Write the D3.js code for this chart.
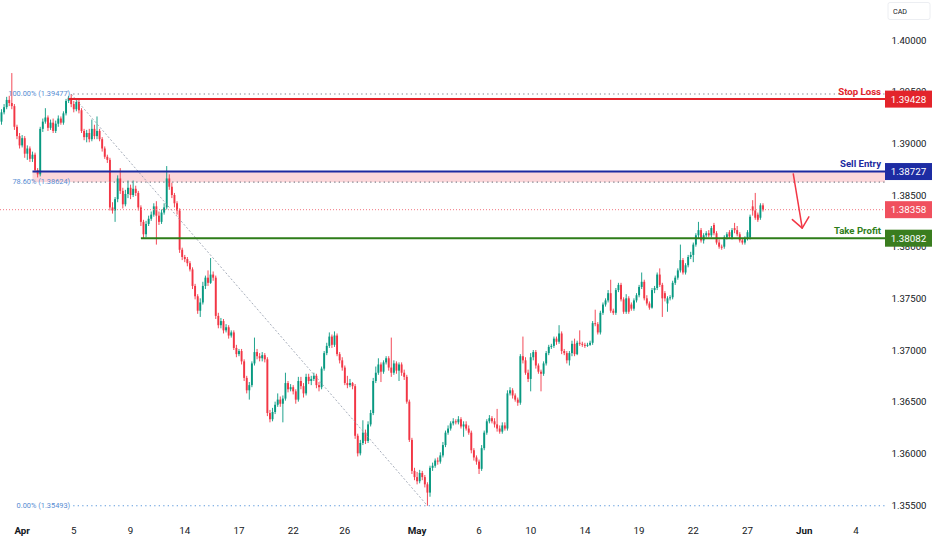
<!DOCTYPE html>
<html><head><meta charset="utf-8">
<script src="https://cdn.jsdelivr.net/npm/d3@7"></script>
<style>html,body{margin:0;padding:0;background:#fff;}svg{display:block;}</style>
</head><body>
<svg id="c" width="932" height="550"></svg>
<script>
// ---- data (USD/CAD candles) ----
const opens = [
1.3921,1.3930,1.3935,1.3942,1.3939,1.3936,1.3916,1.3907,1.3898,1.3905,
1.3890,1.3895,1.3885,1.3889,1.3874,1.3870,1.3914,1.3921,1.3925,1.3915,
1.3920,1.3912,1.3919,1.3924,1.3920,1.3929,1.3941,1.3944,1.3938,1.3933,
1.3940,1.3932,1.3912,1.3906,1.3910,1.3904,1.3914,1.3907,1.3912,1.3904,
1.3895,1.3887,1.3884,1.3838,1.3835,1.3846,1.3866,1.3854,1.3841,1.3851,
1.3857,1.3850,1.3856,1.3852,1.3838,1.3824,1.3812,1.3822,1.3827,1.3831,
1.3839,1.3830,1.3824,1.3833,1.3838,1.3866,1.3858,1.3850,1.3842,1.3835,
1.3797,1.3790,1.3788,1.3784,1.3778,1.3762,1.3752,1.3738,1.3746,1.3762,
1.3770,1.3765,1.3773,1.3770,1.3733,1.3724,1.3728,1.3719,1.3722,1.3714,
1.3717,1.3702,1.3696,1.3699,1.3689,1.3673,1.3661,1.3666,1.3687,1.3698,
1.3694,1.3692,1.3695,1.3691,1.3639,1.3633,1.3640,1.3647,1.3652,1.3648,
1.3653,1.3668,1.3662,1.3664,1.3660,1.3652,1.3670,1.3665,1.3658,1.3674,
1.3670,1.3672,1.3675,1.3666,1.3664,1.3682,1.3697,1.3704,1.3713,1.3705,
1.3714,1.3696,1.3690,1.3683,1.3668,1.3666,1.3668,1.3665,1.3617,1.3600,
1.3610,1.3620,1.3612,1.3628,1.3639,1.3670,1.3678,1.3686,1.3679,1.3688,
1.3692,1.3683,1.3678,1.3687,1.3680,1.3686,1.3678,1.3674,1.3650,1.3613,
1.3583,1.3577,1.3573,1.3581,1.3577,1.3570,1.3562,1.3586,1.3588,1.3593,
1.3592,1.3598,1.3608,1.3620,1.3624,1.3629,1.3631,1.3630,1.3633,1.3626,
1.3628,1.3624,1.3620,1.3603,1.3596,1.3592,1.3585,1.3605,1.3620,1.3631,
1.3634,1.3631,1.3628,1.3624,1.3621,1.3627,1.3624,1.3658,1.3661,1.3656,
1.3652,1.3649,1.3694,1.3690,1.3678,1.3672,1.3693,1.3698,1.3685,1.3679,
1.3677,1.3687,1.3697,1.3703,1.3704,1.3711,1.3708,1.3716,1.3699,1.3697,
1.3690,1.3697,1.3706,1.3696,1.3707,1.3706,1.3705,1.3704,1.3705,1.3707,
1.3726,1.3725,1.3717,1.3736,1.3744,1.3748,1.3755,1.3738,1.3736,1.3758,
1.3763,1.3749,1.3737,1.3750,1.3744,1.3740,1.3748,1.3753,1.3761,1.3766,
1.3750,1.3745,1.3741,1.3758,1.3760,1.3773,1.3763,1.3755,1.3745,1.3750,
1.3751,1.3765,1.3770,1.3777,1.3787,1.3775,1.3782,1.3790,1.3792,1.3802,
1.3811,1.3816,1.3806,1.3811,1.3813,1.3811,1.3821,1.3813,1.3804,1.3800,
1.3800,1.3809,1.3814,1.3809,1.3818,1.3816,1.3812,1.3806,1.3804,1.3808,
1.3809,1.3839,1.3835,1.3831,1.3828,1.3840];
const closes = [
1.3930,1.3935,1.3942,1.3939,1.3936,1.3916,1.3907,1.3898,1.3905,1.3890,
1.3895,1.3885,1.3889,1.3874,1.3870,1.3914,1.3921,1.3925,1.3915,1.3920,
1.3912,1.3919,1.3924,1.3920,1.3929,1.3941,1.3944,1.3938,1.3933,1.3940,
1.3932,1.3912,1.3906,1.3910,1.3904,1.3914,1.3907,1.3912,1.3904,1.3895,
1.3887,1.3884,1.3838,1.3835,1.3846,1.3866,1.3854,1.3841,1.3851,1.3857,
1.3850,1.3856,1.3852,1.3838,1.3824,1.3812,1.3822,1.3827,1.3831,1.3839,
1.3830,1.3824,1.3833,1.3838,1.3866,1.3858,1.3850,1.3842,1.3835,1.3797,
1.3790,1.3788,1.3784,1.3778,1.3762,1.3752,1.3738,1.3746,1.3762,1.3770,
1.3765,1.3773,1.3770,1.3733,1.3724,1.3728,1.3719,1.3722,1.3714,1.3717,
1.3702,1.3696,1.3699,1.3689,1.3673,1.3661,1.3666,1.3687,1.3698,1.3694,
1.3692,1.3695,1.3691,1.3639,1.3633,1.3640,1.3647,1.3652,1.3648,1.3653,
1.3668,1.3662,1.3664,1.3660,1.3652,1.3670,1.3665,1.3658,1.3674,1.3670,
1.3672,1.3675,1.3666,1.3664,1.3682,1.3697,1.3704,1.3713,1.3705,1.3714,
1.3696,1.3690,1.3683,1.3668,1.3666,1.3668,1.3665,1.3617,1.3600,1.3610,
1.3620,1.3612,1.3628,1.3639,1.3670,1.3678,1.3686,1.3679,1.3688,1.3692,
1.3683,1.3678,1.3687,1.3680,1.3686,1.3678,1.3674,1.3650,1.3613,1.3583,
1.3577,1.3573,1.3581,1.3577,1.3570,1.3562,1.3586,1.3588,1.3593,1.3592,
1.3598,1.3608,1.3620,1.3624,1.3629,1.3631,1.3630,1.3633,1.3626,1.3628,
1.3624,1.3620,1.3603,1.3596,1.3592,1.3585,1.3605,1.3620,1.3631,1.3634,
1.3631,1.3628,1.3624,1.3621,1.3627,1.3624,1.3658,1.3661,1.3656,1.3652,
1.3649,1.3694,1.3690,1.3678,1.3672,1.3693,1.3698,1.3685,1.3679,1.3677,
1.3687,1.3697,1.3703,1.3704,1.3711,1.3708,1.3716,1.3699,1.3697,1.3690,
1.3697,1.3706,1.3696,1.3707,1.3706,1.3705,1.3704,1.3705,1.3707,1.3726,
1.3725,1.3717,1.3736,1.3744,1.3748,1.3755,1.3738,1.3736,1.3758,1.3763,
1.3749,1.3737,1.3750,1.3737,1.3740,1.3748,1.3753,1.3761,1.3766,1.3750,
1.3745,1.3741,1.3758,1.3760,1.3773,1.3763,1.3750,1.3750,1.3750,1.3751,
1.3765,1.3770,1.3777,1.3787,1.3775,1.3782,1.3790,1.3792,1.3802,1.3811,
1.3816,1.3806,1.3811,1.3813,1.3811,1.3818,1.3813,1.3804,1.3800,1.3799,
1.3809,1.3812,1.3810,1.3816,1.3816,1.3812,1.3806,1.3804,1.3808,1.3814,
1.3829,1.3835,1.3828,1.3826,1.3840,1.38358];
const highs = [
1.3933,1.3938,1.3945,1.3946,1.3968,1.3938,1.3918,1.3910,1.3908,1.3907,
1.3898,1.3897,1.3892,1.3891,1.3876,1.3916,1.3924,1.3934,1.3927,1.3923,
1.3924,1.3922,1.3927,1.3926,1.3931,1.3943,1.3946,1.39477,1.3941,1.3943,
1.3942,1.3934,1.3914,1.3913,1.3914,1.3923,1.3918,1.3926,1.3914,1.3906,
1.3897,1.3889,1.3886,1.3843,1.3848,1.3869,1.3876,1.3857,1.3855,1.3864,
1.3860,1.3864,1.3859,1.3854,1.3840,1.3826,1.3825,1.3830,1.3834,1.3842,
1.3844,1.3834,1.3836,1.3842,1.3878,1.3870,1.3862,1.3852,1.3844,1.3837,
1.3799,1.3792,1.3790,1.3786,1.3780,1.3764,1.3754,1.3750,1.3766,1.3772,
1.3777,1.3789,1.3776,1.3772,1.3736,1.3731,1.3730,1.3725,1.3724,1.3719,
1.3719,1.3705,1.3701,1.3701,1.3691,1.3675,1.3669,1.3689,1.3712,1.3701,
1.3697,1.3698,1.3697,1.3693,1.3642,1.3644,1.3650,1.3658,1.3655,1.3656,
1.3678,1.3670,1.3667,1.3666,1.3662,1.3674,1.3674,1.3668,1.3677,1.3677,
1.3675,1.3678,1.3677,1.3669,1.3684,1.3699,1.3707,1.3717,1.3715,1.3718,
1.3716,1.3698,1.3693,1.3685,1.3675,1.3672,1.3669,1.3667,1.3619,1.3613,
1.3632,1.3623,1.3631,1.3642,1.3673,1.3684,1.3692,1.3688,1.3690,1.3694,
1.3694,1.3712,1.3690,1.3689,1.3688,1.3688,1.3681,1.3676,1.3652,1.3615,
1.3586,1.3582,1.3584,1.3583,1.3579,1.3572,1.3588,1.3591,1.3595,1.3596,
1.3601,1.3611,1.3622,1.3627,1.3631,1.3634,1.3633,1.3636,1.3635,1.3631,
1.3631,1.3627,1.3622,1.3605,1.3598,1.3594,1.3608,1.3622,1.3633,1.3637,
1.3636,1.3634,1.3643,1.3627,1.3630,1.3630,1.3661,1.3664,1.3663,1.3658,
1.3654,1.3696,1.3713,1.3693,1.3681,1.3697,1.3700,1.3700,1.3687,1.3681,
1.3689,1.3699,1.3705,1.3706,1.3713,1.3713,1.3724,1.3718,1.3701,1.3699,
1.3699,1.3709,1.3711,1.3709,1.3719,1.3708,1.3707,1.3707,1.3709,1.3728,
1.3739,1.3727,1.3738,1.3746,1.3750,1.3758,1.3768,1.3740,1.3760,1.3765,
1.3765,1.3751,1.3754,1.3752,1.3746,1.3750,1.3755,1.3763,1.3775,1.3768,
1.3753,1.3747,1.3760,1.3762,1.3775,1.3779,1.3765,1.3757,1.3752,1.3753,
1.3767,1.3772,1.3779,1.3802,1.3789,1.3784,1.3792,1.3795,1.3804,1.3813,
1.3824,1.3818,1.3813,1.3815,1.3816,1.3820,1.3823,1.3815,1.3807,1.3802,
1.3811,1.3814,1.3816,1.3818,1.3823,1.3820,1.3814,1.3808,1.3810,1.3816,
1.3831,1.3845,1.3852,1.3833,1.3842,1.3842];
const lows = [
1.3918,1.3928,1.3933,1.3936,1.3933,1.3913,1.3904,1.3895,1.3896,1.3886,
1.3884,1.3882,1.3882,1.3872,1.3867,1.3868,1.3911,1.3919,1.3912,1.3913,
1.3910,1.3910,1.3916,1.3918,1.3918,1.3927,1.3939,1.3935,1.3930,1.3931,
1.3929,1.3910,1.3903,1.3901,1.3901,1.3902,1.3904,1.3904,1.3902,1.3892,
1.3885,1.3881,1.3835,1.3832,1.3824,1.3843,1.3851,1.3837,1.3839,1.3847,
1.3846,1.3848,1.3849,1.3835,1.3820,1.3808,1.3809,1.3820,1.3825,1.3829,
1.3802,1.3821,1.3822,1.3831,1.3836,1.3855,1.3847,1.3838,1.3831,1.3794,
1.3787,1.3785,1.3781,1.3776,1.3759,1.3749,1.3735,1.3732,1.3744,1.3759,
1.3762,1.3764,1.3767,1.3730,1.3721,1.3721,1.3716,1.3717,1.3711,1.3712,
1.3700,1.3693,1.3694,1.3686,1.3670,1.3658,1.3652,1.3664,1.3685,1.3691,
1.3689,1.3689,1.3688,1.3636,1.3630,1.3631,1.3638,1.3645,1.3645,1.3630,
1.3651,1.3659,1.3660,1.3657,1.3648,1.3650,1.3662,1.3654,1.3656,1.3667,
1.3666,1.3670,1.3663,1.3660,1.3662,1.3680,1.3695,1.3702,1.3702,1.3703,
1.3694,1.3687,1.3680,1.3666,1.3663,1.3664,1.3662,1.3614,1.3597,1.3598,
1.3608,1.3609,1.3610,1.3626,1.3637,1.3668,1.3676,1.3669,1.3677,1.3686,
1.3680,1.3674,1.3676,1.3677,1.3670,1.3675,1.3671,1.3648,1.3611,1.3580,
1.3574,1.3570,1.3571,1.3574,1.3567,1.35493,1.3558,1.3583,1.3586,1.3589,
1.3590,1.3596,1.3606,1.3618,1.3622,1.3627,1.3628,1.3628,1.3624,1.3616,
1.3622,1.3618,1.3600,1.3593,1.3589,1.3580,1.3583,1.3603,1.3618,1.3629,
1.3629,1.3625,1.3621,1.3619,1.3619,1.3622,1.3622,1.3656,1.3653,1.3650,
1.3646,1.3647,1.3687,1.3676,1.3669,1.3660,1.3690,1.3682,1.3677,1.3660,
1.3675,1.3685,1.3695,1.3701,1.3702,1.3705,1.3706,1.3696,1.3695,1.3687,
1.3685,1.3694,1.3694,1.3695,1.3704,1.3703,1.3702,1.3703,1.3704,1.3705,
1.3723,1.3715,1.3715,1.3734,1.3742,1.3746,1.3736,1.3734,1.3734,1.3756,
1.3747,1.3735,1.3735,1.3735,1.3738,1.3738,1.3746,1.3751,1.3759,1.3748,
1.3743,1.3739,1.3740,1.3755,1.3758,1.3761,1.3732,1.3747,1.3737,1.3748,
1.3749,1.3763,1.3768,1.3775,1.3773,1.3773,1.3780,1.3788,1.3785,1.3800,
1.3808,1.3804,1.3803,1.3809,1.3809,1.3809,1.3811,1.3802,1.3798,1.3797,
1.3798,1.3807,1.3808,1.3807,1.3813,1.3810,1.3804,1.3802,1.3802,1.3806,
1.3807,1.3830,1.3826,1.3824,1.3826,1.3834];

// date axis: bar index of each label
const dateLabels = ["Apr","5","9","14","17","22","26","May","6","10","14","19","22","27","Jun","4"];
const dateIdx    = [8, 28, 50, 71, 92, 113, 133, 161, 185, 205, 226, 247, 268, 289, 311, 331];
const monthNames = ["Apr","May","Jun"];

// price axis ticks
const priceTicks = [1.355, 1.360, 1.365, 1.370, 1.375, 1.380, 1.385, 1.390, 1.395, 1.400];

// trade levels
const levelNames  = ["Stop Loss", "Sell Entry", "Take Profit"];
const levelPrices = [1.39428, 1.38727, 1.38082];
const levelStart  = [26, 12, 54];          // bar index where each line begins

// fibonacci retracement (anchors and ratios)
const fibHighIdx = 27, fibHigh = 1.39477;
const fibLowIdx  = 165, fibLow = 1.35493;
const fibRatios  = [1, 0.786, 0];
const fibText    = ["100.00%", "78.60%", "0.00%"];

// arrow (bar index, price)
const arrowFrom = [306.7, 1.3871];
const arrowTo   = [310.2, 1.3818];

// ---- drawing ----
const svg = d3.select("#c");
const FONT = "Roboto, 'Noto Sans', sans-serif";
const GREEN = "#089981", RED = "#f23645";
const plotRight = 885;
const n = closes.length;
const x = d3.scaleLinear().domain([0, n - 1]).range([1.5, 763]);
const y = d3.scaleLinear().domain([1.355, 1.400]).range([505, 40]);

const levelColor = ["#e3242b", "#1c2aa0", "#2e7d19"];
const levelBox   = ["#e3242b", "#1d2ca3", "#3a7d1f"];

// pink zone between sell entry and 78.6% level
const fibPrice = r => fibLow + r * (fibHigh - fibLow);
svg.append("rect")
  .attr("x", x(levelStart[1])).attr("width", plotRight - x(levelStart[1]))
  .attr("y", y(levelPrices[1])).attr("height", y(fibPrice(0.786)) - y(levelPrices[1]))
  .attr("fill", "#fcd7da");

// candles
const idx = d3.range(n);
const cg = svg.append("g");
cg.selectAll("line").data(idx).join("line")
  .attr("x1", i => x(i)).attr("x2", i => x(i))
  .attr("y1", i => y(highs[i])).attr("y2", i => y(lows[i]))
  .attr("stroke", i => closes[i] >= opens[i] ? GREEN : RED)
  .attr("stroke-width", 0.9);
cg.selectAll("rect").data(idx).join("rect")
  .attr("x", i => x(i) - 0.95).attr("width", 1.9)
  .attr("y", i => y(Math.max(opens[i], closes[i])))
  .attr("height", i => Math.max(0.9, Math.abs(y(opens[i]) - y(closes[i]))))
  .attr("fill", i => closes[i] >= opens[i] ? GREEN : RED);

// fib diagonal
svg.append("line")
  .attr("x1", x(fibHighIdx)).attr("y1", y(fibHigh))
  .attr("x2", x(fibLowIdx)).attr("y2", y(fibLow))
  .attr("stroke", "#8f98a8").attr("stroke-width", 0.8).attr("stroke-dasharray", "2,2");

// fib levels
const fibColors = ["#7d818c", "#7d818c", "#5f9bdc"];
fibRatios.forEach((r, k) => {
  const p = fibPrice(r);
  svg.append("line")
    .attr("x1", x(fibHighIdx) + 2).attr("x2", plotRight)
    .attr("y1", y(p)).attr("y2", y(p))
    .attr("stroke", fibColors[k]).attr("stroke-width", 1.1)
    .attr("stroke-dasharray", "1.3,3.2");
  svg.append("text")
    .attr("x", x(fibHighIdx) - 1).attr("y", y(p) - 0.5)
    .attr("text-anchor", "end").attr("dominant-baseline", "central")
    .attr("font-family", FONT).attr("font-size", 7.4).attr("fill", "#578cd2")
    .text(`${fibText[k]} (${p.toFixed(5)})`);
});

// current price dotted line
const last = closes[n - 1];
svg.append("line")
  .attr("x1", 0).attr("x2", plotRight).attr("y1", y(last)).attr("y2", y(last))
  .attr("stroke", "#f27782").attr("stroke-width", 1).attr("stroke-dasharray", "1,2");

// trade level lines and labels
levelPrices.forEach((p, k) => {
  svg.append("line")
    .attr("x1", x(levelStart[k])).attr("x2", plotRight)
    .attr("y1", y(p)).attr("y2", y(p))
    .attr("stroke", levelColor[k]).attr("stroke-width", 2);
  svg.append("text")
    .attr("x", 881).attr("y", y(p) - 4.5)
    .attr("text-anchor", "end")
    .attr("font-family", FONT).attr("font-size", 9.6).attr("font-weight", 700)
    .attr("fill", levelColor[k]).text(levelNames[k]);
});

// arrow
const ax1 = x(arrowFrom[0]), ay1 = y(arrowFrom[1]);
const ax2 = x(arrowTo[0]), ay2 = y(arrowTo[1]);
svg.append("line").attr("x1", ax1).attr("y1", ay1).attr("x2", ax2).attr("y2", ay2)
  .attr("stroke", RED).attr("stroke-width", 1.5);
{
  const dx = ax1 - ax2, dy = ay1 - ay2, L = Math.hypot(dx, dy);
  const ux = dx / L, uy = dy / L, len = 13;
  [40, -40].forEach(a => {
    const t = a * Math.PI / 180;
    const vx = ux * Math.cos(t) - uy * Math.sin(t);
    const vy = ux * Math.sin(t) + uy * Math.cos(t);
    svg.append("line").attr("x1", ax2).attr("y1", ay2)
      .attr("x2", ax2 + vx * len).attr("y2", ay2 + vy * len)
      .attr("stroke", RED).attr("stroke-width", 1.5).attr("stroke-linecap", "round");
  });
}

// price axis labels
svg.append("g").selectAll("text").data(priceTicks).join("text")
  .attr("x", 909).attr("y", d => y(d))
  .attr("text-anchor", "middle").attr("dominant-baseline", "central")
  .attr("font-family", FONT).attr("font-size", 9.6).attr("fill", "#131722")
  .text(d => d.toFixed(5));

// price boxes on the axis
const boxPrices = [levelPrices[0], levelPrices[1], last, levelPrices[2]];
const boxColors = [levelBox[0], levelBox[1], "#f0505e", levelBox[2]];
boxPrices.forEach((p, k) => {
  svg.append("rect").attr("x", 885).attr("width", 47)
    .attr("y", y(p) - 8.5).attr("height", 17).attr("fill", boxColors[k]);
  svg.append("text").attr("x", 908.5).attr("y", y(p))
    .attr("text-anchor", "middle").attr("dominant-baseline", "central")
    .attr("font-family", FONT).attr("font-size", 9.8).attr("fill", "#fff")
    .text(p.toFixed(5));
});

// currency tag
svg.append("rect").attr("x", 888).attr("y", 2.5).attr("width", 42).attr("height", 17)
  .attr("rx", 2).attr("fill", "#fff").attr("stroke", "#eceef2");
svg.append("text").attr("x", 893).attr("y", 11.5).attr("dominant-baseline", "central")
  .attr("font-family", FONT).attr("font-size", 7.2).attr("fill", "#131722").text("CAD");

// date axis
svg.append("g").selectAll("text").data(dateLabels).join("text")
  .attr("x", (d, i) => x(dateIdx[i])).attr("y", 530)
  .attr("text-anchor", "middle").attr("dominant-baseline", "central")
  .attr("font-family", FONT).attr("font-size", 9.8)
  .attr("font-weight", d => monthNames.includes(d) ? 700 : 400)
  .attr("fill", "#131722").text(d => d);
</script>
</body></html>
